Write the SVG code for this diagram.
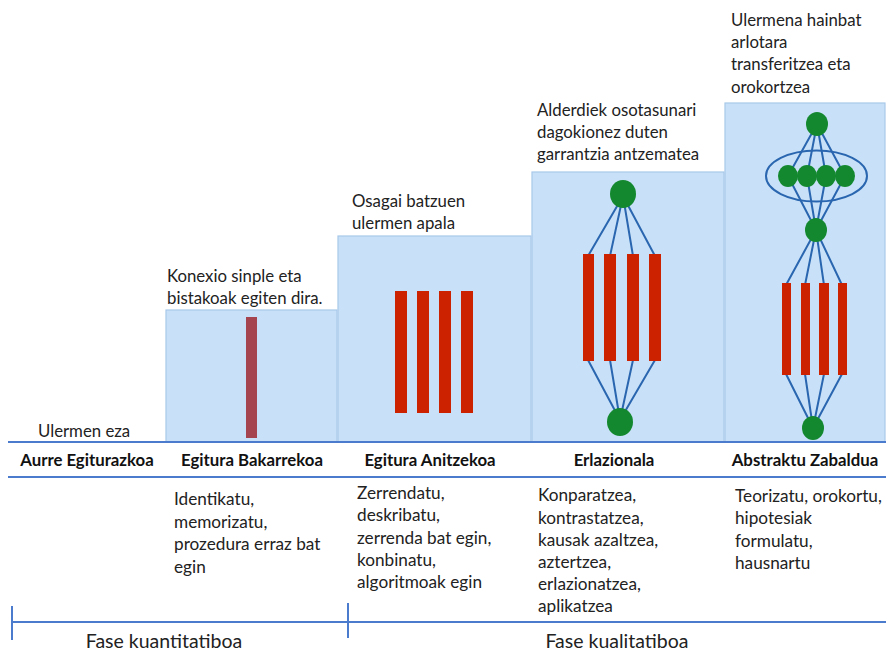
<svg xmlns="http://www.w3.org/2000/svg" width="888" height="652" viewBox="0 0 888 652">
<style>
.t{font-family:Lato,"Liberation Sans",sans-serif;font-size:16.8px;fill:#222}
.u{font-family:Lato,"Liberation Sans",sans-serif;font-size:17.2px;fill:#222}
.f{font-family:Lato,"Liberation Sans",sans-serif;font-size:19.5px;fill:#222;text-anchor:middle}
.b{font-family:Lato,"Liberation Sans",sans-serif;font-size:16.8px;font-weight:bold;fill:#111;text-anchor:middle}
.box{fill:#c8e1f8;stroke:#a8c8ea;stroke-width:1.2}
.bar{fill:#cc2200}
.dot{fill:#13882e}
.ln{stroke:#2a66b0;stroke-width:2;fill:none}
.axis{stroke:#4a7bcc;stroke-width:2}
</style>
<rect width="888" height="652" fill="#fff"/>

<g id="stage-aurre">
<text class="t" x="38" y="437">Ulermen eza</text>
<text class="b" x="87" y="466">Aurre Egiturazkoa</text>
</g>

<g id="stage-bakarrekoa">
<rect class="box" x="166" y="310" width="171" height="132"/>
<rect x="246" y="317" width="11" height="121" fill="#a5444e"/>
<text class="t" x="167" y="282">Konexio sinple eta</text>
<text class="t" x="167" y="304">bistakoak egiten dira.</text>
<text class="b" x="252" y="466">Egitura Bakarrekoa</text>
<text class="u" x="174" y="505">Identikatu,</text>
<text class="u" x="174" y="528">memorizatu,</text>
<text class="u" x="174" y="550">prozedura erraz bat</text>
<text class="u" x="174" y="573">egin</text>
</g>

<g id="stage-anitzekoa">
<rect class="box" x="338" y="236" width="193" height="206"/>
<rect class="bar" x="395" y="291" width="12" height="122"/>
<rect class="bar" x="417" y="291" width="12" height="122"/>
<rect class="bar" x="439" y="291" width="12" height="122"/>
<rect class="bar" x="461" y="291" width="12" height="122"/>
<text class="t" x="352" y="207">Osagai batzuen</text>
<text class="t" x="352" y="229">ulermen apala</text>
<text class="b" x="430" y="466">Egitura Anitzekoa</text>
<text class="u" x="357" y="499">Zerrendatu,</text>
<text class="u" x="357" y="521">deskribatu,</text>
<text class="u" x="357" y="544">zerrenda bat egin,</text>
<text class="u" x="357" y="566">konbinatu,</text>
<text class="u" x="357" y="588">algoritmoak egin</text>
</g>

<g id="stage-erlazionala">
<rect class="box" x="532" y="172" width="192" height="270"/>
<text class="t" x="537" y="116">Alderdiek osotasunari</text>
<text class="t" x="537" y="138">dagokionez duten</text>
<text class="t" x="537" y="160">garrantzia antzematea</text>
<text class="b" x="614" y="466">Erlazionala</text>
<text class="u" x="538" y="501">Konparatzea,</text>
<text class="u" x="538" y="524">kontrastatzea,</text>
<text class="u" x="538" y="546">kausak azaltzea,</text>
<text class="u" x="538" y="568">aztertzea,</text>
<text class="u" x="538" y="590">erlazionatzea,</text>
<text class="u" x="538" y="612">aplikatzea</text>
</g>

<g id="stage-abstraktu">
<rect class="box" x="725" y="103" width="160" height="339"/>
<text class="t" x="731" y="26">Ulermena hainbat</text>
<text class="t" x="731" y="48">arlotara</text>
<text class="t" x="731" y="70">transferitzea eta</text>
<text class="t" x="731" y="93">orokortzea</text>
<text class="b" x="805" y="466">Abstraktu Zabaldua</text>
<text class="u" x="735" y="502">Teorizatu, orokortu,</text>
<text class="u" x="735" y="524">hipotesiak</text>
<text class="u" x="735" y="547">formulatu,</text>
<text class="u" x="735" y="569">hausnartu</text>
</g>

<g id="connectors">
<path class="ln" d="M623 196 L588 256 M623 196 L610 256 M623 196 L633 256 M623 196 L655 256"/>
<path class="ln" d="M588 360 L620 420 M610 360 L620 420 M633 360 L620 420 M655 360 L620 420"/>
<ellipse class="ln" cx="816.5" cy="176" rx="50.5" ry="25.5"/>
<path class="ln" d="M817 124 L788 176 M817 124 L807 176 M817 124 L826 176 M817 124 L845 176"/>
<path class="ln" d="M788 176 L816 230 M807 176 L816 230 M826 176 L816 230 M845 176 L816 230"/>
<path class="ln" d="M816 230 L786 285 M816 230 L805 285 M816 230 L824 285 M816 230 L842 285"/>
<path class="ln" d="M786 374 L813 428 M805 374 L813 428 M824 374 L813 428 M842 374 L813 428"/>
</g>

<g id="graph-erlazionala">
<ellipse class="dot" cx="623" cy="194" rx="13" ry="14"/>
<rect class="bar" x="583" y="254" width="11" height="107"/>
<rect class="bar" x="604" y="254" width="12" height="107"/>
<rect class="bar" x="627" y="254" width="12" height="107"/>
<rect class="bar" x="649" y="254" width="12" height="107"/>
<ellipse class="dot" cx="620" cy="422" rx="13" ry="14"/>
</g>

<g id="graph-abstraktu">
<ellipse class="dot" cx="817" cy="124" rx="11" ry="12"/>
<ellipse class="dot" cx="788" cy="176" rx="10" ry="11"/>
<ellipse class="dot" cx="807" cy="176" rx="10" ry="11"/>
<ellipse class="dot" cx="826" cy="176" rx="10" ry="11"/>
<ellipse class="dot" cx="845" cy="176" rx="10" ry="11"/>
<ellipse class="dot" cx="816" cy="230" rx="11" ry="12"/>
<rect class="bar" x="782" y="283" width="9" height="92"/>
<rect class="bar" x="801" y="283" width="9" height="92"/>
<rect class="bar" x="819" y="283" width="10" height="92"/>
<rect class="bar" x="838" y="283" width="9" height="92"/>
<ellipse class="dot" cx="813" cy="428" rx="11" ry="12"/>
</g>

<g id="axes">
<line class="axis" x1="8" y1="442" x2="886" y2="442"/>
<line class="axis" x1="8" y1="477" x2="886" y2="477"/>
<line class="axis" x1="12" y1="622" x2="886" y2="622" stroke-width="1.5"/>
<line class="axis" x1="12" y1="606" x2="12" y2="640" stroke-width="1.5"/>
<line class="axis" x1="348" y1="603" x2="348" y2="638" stroke-width="1.5"/>
<text class="f" x="164" y="648">Fase kuantitatiboa</text>
<text class="f" x="617" y="648">Fase kualitatiboa</text>
</g>
</svg>
